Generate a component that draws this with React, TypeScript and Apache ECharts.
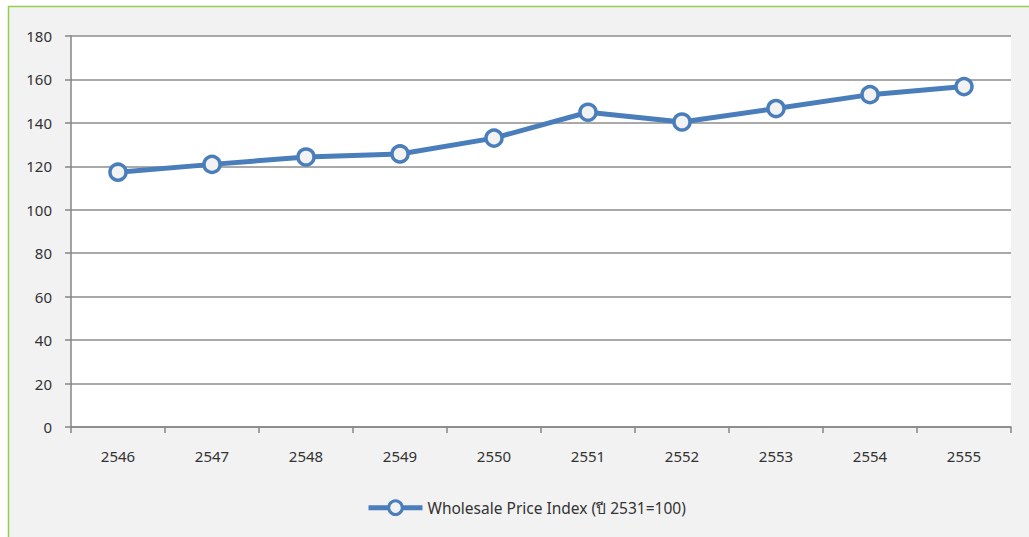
import React, { useEffect, useRef } from "react";
import * as echarts from "echarts";

const years = ["2546", "2547", "2548", "2549", "2550", "2551", "2552", "2553", "2554", "2555"];
const wpi = [117.3, 120.9, 124.3, 125.7, 133.0, 144.9, 140.4, 146.6, 153.0, 156.7];
const seriesName = "Wholesale Price Index (ปี 2531=100)";

export default function App() {
  const ref = useRef<HTMLDivElement>(null);
  useEffect(() => {
    document.body.style.margin = "0";
    const chart = echarts.init(ref.current!, null, { renderer: "svg" });
    const font = "'Noto Sans', 'DejaVu Sans', sans-serif";
    chart.setOption({
      animation: false,
      backgroundColor: "#ffffff",
      textStyle: { fontFamily: font },
      graphic: [
        {
          type: "rect",
          z: -10,
          silent: true,
          shape: { x: 8.5, y: 6.5, width: 1040, height: 560 },
          style: { fill: "#f2f2f2", stroke: "#92d050", lineWidth: 1.5 },
        },
      ],
      grid: {
        left: 71,
        right: 18,
        top: 36,
        bottom: 110,
        show: true,
        backgroundColor: "#ffffff",
        borderWidth: 0,
      },
      legend: {
        bottom: 16,
        left: 361,
        itemWidth: 54,
        itemHeight: 17,
        itemGap: 10,
        textStyle: { fontSize: 15.5, color: "#333333", fontFamily: font },
        lineStyle: { width: 5, color: "#4a7ebb" },
        itemStyle: { color: "#f2f2f2", borderColor: "#4a7ebb", borderWidth: 3 },
        data: [seriesName],
      },
      xAxis: {
        type: "category",
        data: years,
        boundaryGap: true,
        axisLine: { show: true, lineStyle: { color: "#868686", width: 1.5 } },
        axisTick: { show: true, length: 6, alignWithLabel: false, lineStyle: { color: "#868686", width: 1.5 } },
        axisLabel: { color: "#333333", fontSize: 15, margin: 21, fontFamily: font },
        splitLine: { show: false },
      },
      yAxis: {
        type: "value",
        min: 0,
        max: 180,
        interval: 20,
        axisLine: { show: true, lineStyle: { color: "#868686", width: 1.5 } },
        axisTick: { show: true, length: 6, lineStyle: { color: "#868686", width: 1.5 } },
        axisLabel: { color: "#333333", fontSize: 15, margin: 19, fontFamily: font },
        splitLine: { show: true, lineStyle: { color: "#8c8c8c", width: 1.5 } },
      },
      series: [
        {
          name: seriesName,
          type: "line",
          data: wpi,
          symbol: "circle",
          symbolSize: 16,
          lineStyle: { color: "#4a7ebb", width: 5 },
          itemStyle: { color: "#f2f2f2", borderColor: "#4a7ebb", borderWidth: 3.5 },
        },
      ],
    });
    return () => chart.dispose();
  }, []);
  return <div ref={ref} style={{ width: 1029, height: 537 }} />;
}
